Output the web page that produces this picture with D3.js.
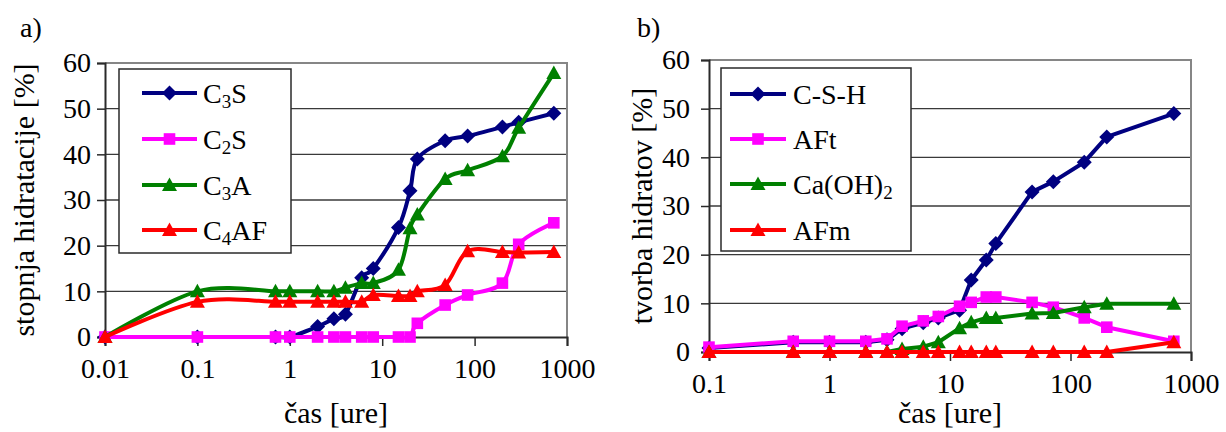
<!DOCTYPE html>
<html><head><meta charset="utf-8">
<script src="https://cdn.jsdelivr.net/npm/d3@7"></script>
<style>
html,body{margin:0;padding:0;background:#fff;}
</style></head>
<body><svg id="c" width="1226" height="432"></svg>
<script>
// ---------- Data ----------
// Panel a: degree of hydration
const timeA = [0.01,0.1,0.7,1,2,3,4,6,8,15,20,24,48,84,200,300,720];
const c3s  = [0,0,0,0,2.3,4,5,13,15,24,32,39,43,44,46,47,49];
const c2s  = [0,0,0,0,0,0,0,0,0,0,0,3,7,9.2,11.8,20.3,25];
const c3a  = [0,10,10,10,10,10,10.8,11.8,11.8,14.7,23.8,26.8,34.6,36.5,39.6,45.8,57.8];
const c4af = [0,7.7,7.7,7.7,7.7,7.7,7.7,7.7,9.2,9,9,10,11.4,18.8,18.6,18.5,18.6];
// Panel b: formation of hydrates
const timeB = [0.1,0.5,1,2,3,4,6,8,12,15,20,24,48,72,130,200,720];
const csh  = [0.8,2,2,2,2.5,4.8,6,7,8.6,14.8,18.9,22.3,32.9,35,39,44.2,49];
const aft  = [1,2.2,2.2,2.2,2.7,5.3,6.4,7.3,9.4,10.2,11.3,11.3,10.2,9.2,7,5.1,2.2];
const caoh = [0,0,0,0,0,0.6,1.1,2,4.9,6.1,7,7,7.9,8,9.2,9.9,9.9];
const afm  = [0,0,0,0,0,0,0,0,0,0,0,0,0,0,0,0,2];
// Ticks
const xTicksA = [0.01,0.1,1,10,100,1000];
const xTickLabelsA = ["0.01","0.1","1","10","100","1000"];
const xTicksB = [0.1,1,10,100,1000];
const xTickLabelsB = ["0.1","1","10","100","1000"];
const yTicks = [0,10,20,30,40,50,60];

const FONT = "'Liberation Serif', 'DejaVu Serif', serif";
const svg = d3.select("#c");

function markerPath(type){
  if(type==="diamond") return "M0,-7.5L7.5,0L0,7.5L-7.5,0Z";
  if(type==="square") return "M-5.8,-5.8H5.8V5.8H-5.8Z";
  return "M0,-7.5L7.5,6L-7.5,6Z";
}

function txt(sel, size){
  return sel.style("font-family", FONT).style("font-size", size+"px").style("fill","#000");
}

function drawPanel(cfg){
  const x = d3.scaleLog().domain(cfg.xDomain).range([cfg.left, cfg.right]);
  const y = d3.scaleLinear().domain([0,60]).range([cfg.bottom, cfg.top]);
  const g = svg.append("g");

  // gridlines
  g.selectAll(".grid").data(yTicks.filter(t=>t>0 && t<60)).enter().append("line")
    .attr("x1",cfg.left).attr("x2",cfg.right)
    .attr("y1",d=>y(d)).attr("y2",d=>y(d))
    .attr("stroke","#3a3a3a").attr("stroke-width",1.4);
  // top & right border
  g.append("path")
    .attr("d",`M${cfg.left},${cfg.top}H${cfg.right}V${cfg.bottom}`)
    .attr("fill","none").attr("stroke","#868686").attr("stroke-width",2);

  // y axis
  const ya = d3.axisLeft(y).tickValues(yTicks).tickSize(8).tickPadding(cfg.yPad).tickFormat(d3.format("d"));
  const yg = g.append("g").attr("transform",`translate(${cfg.left},0)`).call(ya);
  yg.select(".domain").attr("stroke","#2a2a2a").attr("stroke-width",2);
  yg.selectAll(".tick line").attr("stroke","#2a2a2a").attr("stroke-width",1.5);
  txt(yg.selectAll("text"), 28);

  // x axis
  const xa = d3.axisBottom(x).tickValues(cfg.xTicks).tickSize(9).tickPadding(12)
    .tickFormat((d,i)=>cfg.xLabels[i]);
  const xg = g.append("g").attr("transform",`translate(0,${cfg.bottom})`).call(xa);
  xg.select(".domain").attr("stroke","#2a2a2a").attr("stroke-width",2);
  xg.selectAll(".tick line").attr("stroke","#2a2a2a").attr("stroke-width",1.5);
  txt(xg.selectAll("text"), 28);

  // series
  cfg.series.forEach(s=>{
    const pts = cfg.xs.map((t,i)=>[t,s.values[i]]);
    const line = d3.line().x(d=>x(d[0])).y(d=>y(d[1])).curve(cfg.curve);
    g.append("path").attr("d",line(pts)).attr("fill","none")
      .attr("stroke",s.color).attr("stroke-width",4).attr("stroke-linejoin","round");
    g.selectAll(null).data(pts).enter().append("path")
      .attr("d",markerPath(s.marker))
      .attr("transform",d=>`translate(${x(d[0])},${y(d[1])})`)
      .attr("fill",s.color);
  });

  // legend
  const L = cfg.legend;
  g.append("rect").attr("x",L.x).attr("y",L.y).attr("width",L.w).attr("height",L.h)
    .attr("fill","#fff").attr("stroke","#2a2a2a").attr("stroke-width",1.5);
  cfg.series.forEach((s,i)=>{
    const cy = L.rows[i];
    g.append("line").attr("x1",L.lx1).attr("x2",L.lx2).attr("y1",cy).attr("y2",cy)
      .attr("stroke",s.color).attr("stroke-width",4);
    g.append("path").attr("d",markerPath(s.marker))
      .attr("transform",`translate(${(L.lx1+L.lx2)/2},${cy})`).attr("fill",s.color);
    const t = txt(g.append("text").attr("x",L.tx).attr("y",cy+10), 28);
    s.label.forEach(part=>{
      if(part.sub){
        t.append("tspan").style("font-size","19px").attr("dy",5).text(part.sub);
        t.append("tspan").attr("dy",-5).text("\u200B");
      } else {
        t.append("tspan").text(part.t);
      }
    });
  });

  // axis titles
  txt(g.append("text").attr("x",(cfg.left+cfg.right)/2).attr("y",423)
    .attr("text-anchor","middle"), 30).text("čas [ure]");
  txt(g.append("text").attr("transform",`translate(${cfg.yTitleX},${(cfg.top+cfg.bottom)/2+cfg.yTitleDy}) rotate(-90)`)
    .attr("text-anchor","middle"), 30).text(cfg.yTitle);
  txt(g.append("text").attr("x",cfg.tagX).attr("y",37), 28).text(cfg.tag);
}

drawPanel({
  left:105, right:567, top:63, bottom:337,
  xDomain:[0.01,1000], xTicks:xTicksA, xLabels:xTickLabelsA, xs:timeA, yPad:6,
  curve:d3.curveCardinal.tension(0),
  series:[
    {values:c3s, color:"#000080", marker:"diamond", label:[{t:"C"},{sub:"3"},{t:"S"}]},
    {values:c2s, color:"#ff00ff", marker:"square", label:[{t:"C"},{sub:"2"},{t:"S"}]},
    {values:c3a, color:"#008000", marker:"triangle", label:[{t:"C"},{sub:"3"},{t:"A"}]},
    {values:c4af, color:"#ff0000", marker:"triangle", label:[{t:"C"},{sub:"4"},{t:"AF"}]}
  ],
  legend:{x:119,y:69,w:172,h:184,lx1:142,lx2:197,tx:203,rows:[93,139,185,230]},
  yTitle:"stopnja hidratacije [%]", yTitleX:34, yTitleDy:0,
  tag:"a)", tagX:20
});

drawPanel({
  left:709, right:1191, top:60, bottom:352,
  xDomain:[0.1,1000], xTicks:xTicksB, xLabels:xTickLabelsB, xs:timeB, yPad:11,
  curve:d3.curveLinear,
  series:[
    {values:csh, color:"#000080", marker:"diamond", label:[{t:"C-S-H"}]},
    {values:aft, color:"#ff00ff", marker:"square", label:[{t:"AFt"}]},
    {values:caoh, color:"#008000", marker:"triangle", label:[{t:"Ca(OH)"},{sub:"2"}]},
    {values:afm, color:"#ff0000", marker:"triangle", label:[{t:"AFm"}]}
  ],
  legend:{x:721,y:68,w:190,h:183,lx1:730,lx2:786,tx:793,rows:[94,139,184,230]},
  yTitle:"tvorba hidratov [%]", yTitleX:652, yTitleDy:0,
  tag:"b)", tagX:637
});
</script></body></html>
